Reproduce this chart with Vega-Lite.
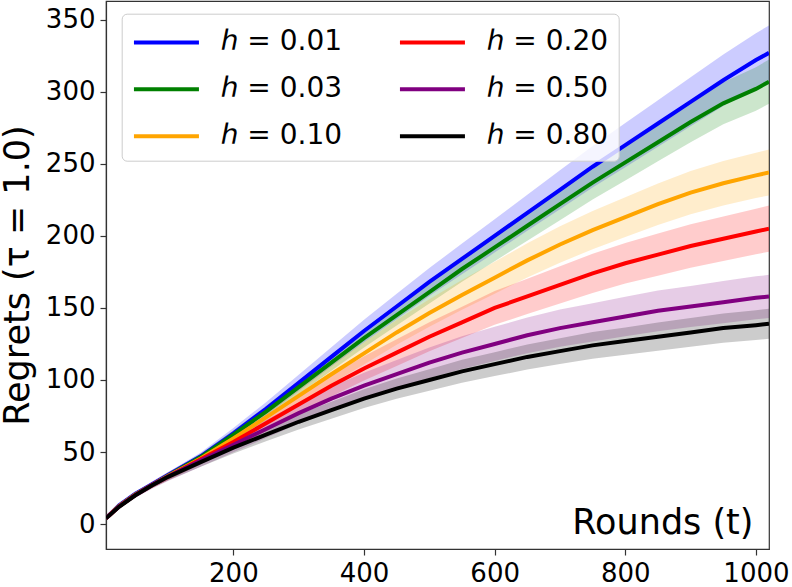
{
  "$schema": "https://vega.github.io/schema/vega-lite/v6.json",
  "width": 663,
  "height": 548,
  "autosize": {"type": "none"},
  "padding": {"left": 106, "top": 1, "right": 23, "bottom": 38},
  "background": "white",
  "config": {
    "font": "DejaVu Sans",
    "view": {"stroke": "#333333", "strokeWidth": 1.2},
    "axis": {
      "labelFont": "DejaVu Sans", "labelFontSize": 26, "labelColor": "black",
      "titleFont": "DejaVu Sans", "titleFontSize": 35, "titleFontWeight": "normal", "titleColor": "black",
      "domainColor": "#333333", "domainWidth": 1.2, "tickColor": "#333333", "tickWidth": 1.2, "tickSize": 6,
      "labelPadding": 5, "grid": false
    },
    "legend": {
      "orient": "none", "legendX": 15.7, "legendY": 12.7, "columns": 2,
      "symbolType": "M-1,0H3", "symbolSize": 1056, "symbolStrokeWidth": 4, "symbolOpacity": 1,
      "labelFont": "DejaVu Sans", "labelFontSize": 28, "labelOffset": 52, "labelLimit": 0, "labelColor": "black",
      "rowPadding": 14, "columnPadding": 49, "padding": 10,
      "fillColor": "rgba(255,255,255,0.8)", "strokeColor": "#cccccc", "cornerRadius": 5
    }
  },
  "data": {"values": [
    {"h":"ℎ = 0.01","t":5,"v":4,"lo":3.8,"hi":4.2},
    {"h":"ℎ = 0.01","t":25,"v":13,"lo":12.2,"hi":13.8},
    {"h":"ℎ = 0.01","t":50,"v":21,"lo":19.8,"hi":22.2},
    {"h":"ℎ = 0.01","t":75,"v":27.5,"lo":25.9,"hi":29.1},
    {"h":"ℎ = 0.01","t":100,"v":34,"lo":32,"hi":36},
    {"h":"ℎ = 0.01","t":150,"v":47,"lo":44.3,"hi":49.7},
    {"h":"ℎ = 0.01","t":200,"v":63,"lo":59.3,"hi":66.7},
    {"h":"ℎ = 0.01","t":250,"v":80,"lo":75.4,"hi":84.6},
    {"h":"ℎ = 0.01","t":300,"v":98,"lo":92.3,"hi":103.7},
    {"h":"ℎ = 0.01","t":350,"v":116,"lo":109.3,"hi":122.7},
    {"h":"ℎ = 0.01","t":400,"v":134,"lo":126.2,"hi":141.8},
    {"h":"ℎ = 0.01","t":450,"v":151,"lo":142.2,"hi":159.8},
    {"h":"ℎ = 0.01","t":500,"v":168,"lo":158.3,"hi":177.7},
    {"h":"ℎ = 0.01","t":550,"v":184,"lo":173.3,"hi":194.7},
    {"h":"ℎ = 0.01","t":600,"v":200,"lo":188.4,"hi":211.6},
    {"h":"ℎ = 0.01","t":650,"v":216,"lo":203.5,"hi":228.5},
    {"h":"ℎ = 0.01","t":700,"v":232,"lo":218.5,"hi":245.5},
    {"h":"ℎ = 0.01","t":750,"v":248,"lo":233.6,"hi":262.4},
    {"h":"ℎ = 0.01","t":800,"v":263,"lo":247.7,"hi":278.3},
    {"h":"ℎ = 0.01","t":850,"v":278,"lo":261.9,"hi":294.1},
    {"h":"ℎ = 0.01","t":900,"v":293,"lo":276,"hi":310},
    {"h":"ℎ = 0.01","t":950,"v":308,"lo":290.1,"hi":325.9},
    {"h":"ℎ = 0.01","t":1000,"v":322,"lo":303.3,"hi":340.7},
    {"h":"ℎ = 0.01","t":1020,"v":327,"lo":308,"hi":346},

    {"h":"ℎ = 0.03","t":5,"v":4,"lo":3.8,"hi":4.2},
    {"h":"ℎ = 0.03","t":25,"v":12.5,"lo":11.9,"hi":13.1},
    {"h":"ℎ = 0.03","t":50,"v":20.5,"lo":19.5,"hi":21.5},
    {"h":"ℎ = 0.03","t":75,"v":27,"lo":25.6,"hi":28.4},
    {"h":"ℎ = 0.03","t":100,"v":33.5,"lo":31.8,"hi":35.2},
    {"h":"ℎ = 0.03","t":150,"v":46.5,"lo":44.2,"hi":48.8},
    {"h":"ℎ = 0.03","t":200,"v":62,"lo":58.9,"hi":65.1},
    {"h":"ℎ = 0.03","t":250,"v":78,"lo":74.1,"hi":81.9},
    {"h":"ℎ = 0.03","t":300,"v":95,"lo":90.3,"hi":99.8},
    {"h":"ℎ = 0.03","t":350,"v":112,"lo":106.4,"hi":117.6},
    {"h":"ℎ = 0.03","t":400,"v":129,"lo":122.6,"hi":135.5},
    {"h":"ℎ = 0.03","t":450,"v":145,"lo":137.8,"hi":152.3},
    {"h":"ℎ = 0.03","t":500,"v":161,"lo":153,"hi":169},
    {"h":"ℎ = 0.03","t":550,"v":177,"lo":168.2,"hi":185.8},
    {"h":"ℎ = 0.03","t":600,"v":192,"lo":182.4,"hi":201.6},
    {"h":"ℎ = 0.03","t":650,"v":207,"lo":196.7,"hi":217.3},
    {"h":"ℎ = 0.03","t":700,"v":222,"lo":210.9,"hi":233.1},
    {"h":"ℎ = 0.03","t":750,"v":237,"lo":225.2,"hi":248.9},
    {"h":"ℎ = 0.03","t":800,"v":251,"lo":238.5,"hi":263.5},
    {"h":"ℎ = 0.03","t":850,"v":265,"lo":251.8,"hi":278.3},
    {"h":"ℎ = 0.03","t":900,"v":279,"lo":265,"hi":293},
    {"h":"ℎ = 0.03","t":950,"v":292,"lo":277.4,"hi":306.6},
    {"h":"ℎ = 0.03","t":1000,"v":302,"lo":286.9,"hi":317.1},
    {"h":"ℎ = 0.03","t":1020,"v":307,"lo":291.7,"hi":322.4},

    {"h":"ℎ = 0.10","t":5,"v":4,"lo":3.7,"hi":4.3},
    {"h":"ℎ = 0.10","t":25,"v":12.5,"lo":11.7,"hi":13.3},
    {"h":"ℎ = 0.10","t":50,"v":20.5,"lo":19.2,"hi":21.8},
    {"h":"ℎ = 0.10","t":75,"v":27,"lo":25.2,"hi":28.8},
    {"h":"ℎ = 0.10","t":100,"v":33.3,"lo":31.1,"hi":35.5},
    {"h":"ℎ = 0.10","t":150,"v":45.5,"lo":42.5,"hi":48.5},
    {"h":"ℎ = 0.10","t":200,"v":59.5,"lo":55.6,"hi":63.4},
    {"h":"ℎ = 0.10","t":250,"v":74,"lo":69.2,"hi":78.8},
    {"h":"ℎ = 0.10","t":300,"v":89,"lo":83.2,"hi":94.8},
    {"h":"ℎ = 0.10","t":350,"v":104,"lo":97.2,"hi":110.8},
    {"h":"ℎ = 0.10","t":400,"v":118.5,"lo":110.8,"hi":126.2},
    {"h":"ℎ = 0.10","t":450,"v":133,"lo":124.4,"hi":141.6},
    {"h":"ℎ = 0.10","t":500,"v":146.5,"lo":137,"hi":156},
    {"h":"ℎ = 0.10","t":550,"v":159,"lo":148.7,"hi":169.3},
    {"h":"ℎ = 0.10","t":600,"v":171,"lo":159.9,"hi":182.1},
    {"h":"ℎ = 0.10","t":650,"v":183,"lo":171.1,"hi":194.9},
    {"h":"ℎ = 0.10","t":700,"v":194,"lo":181.4,"hi":206.6},
    {"h":"ℎ = 0.10","t":750,"v":204,"lo":190.7,"hi":217.3},
    {"h":"ℎ = 0.10","t":800,"v":213,"lo":199.2,"hi":226.8},
    {"h":"ℎ = 0.10","t":850,"v":222,"lo":207.6,"hi":236.4},
    {"h":"ℎ = 0.10","t":900,"v":230,"lo":215,"hi":245},
    {"h":"ℎ = 0.10","t":950,"v":236.5,"lo":221.1,"hi":251.9},
    {"h":"ℎ = 0.10","t":1000,"v":242,"lo":226.3,"hi":257.7},
    {"h":"ℎ = 0.10","t":1020,"v":244,"lo":228.1,"hi":259.9},

    {"h":"ℎ = 0.20","t":5,"v":4,"lo":3.7,"hi":4.3},
    {"h":"ℎ = 0.20","t":25,"v":12.3,"lo":11.3,"hi":13.3},
    {"h":"ℎ = 0.20","t":50,"v":20.3,"lo":18.7,"hi":21.9},
    {"h":"ℎ = 0.20","t":75,"v":27,"lo":24.9,"hi":29.1},
    {"h":"ℎ = 0.20","t":100,"v":33,"lo":30.4,"hi":35.6},
    {"h":"ℎ = 0.20","t":150,"v":45,"lo":41.5,"hi":48.5},
    {"h":"ℎ = 0.20","t":200,"v":57,"lo":52.6,"hi":61.4},
    {"h":"ℎ = 0.20","t":250,"v":70,"lo":64.5,"hi":75.5},
    {"h":"ℎ = 0.20","t":300,"v":83,"lo":76.5,"hi":89.5},
    {"h":"ℎ = 0.20","t":350,"v":96,"lo":88.5,"hi":103.5},
    {"h":"ℎ = 0.20","t":400,"v":108,"lo":99.6,"hi":116.4},
    {"h":"ℎ = 0.20","t":450,"v":119,"lo":109.7,"hi":128.3},
    {"h":"ℎ = 0.20","t":500,"v":130,"lo":119.9,"hi":140.1},
    {"h":"ℎ = 0.20","t":550,"v":140,"lo":129.1,"hi":150.9},
    {"h":"ℎ = 0.20","t":600,"v":150,"lo":138.3,"hi":161.7},
    {"h":"ℎ = 0.20","t":650,"v":158,"lo":145.7,"hi":170.3},
    {"h":"ℎ = 0.20","t":700,"v":166,"lo":153.1,"hi":178.9},
    {"h":"ℎ = 0.20","t":750,"v":174,"lo":160.4,"hi":187.6},
    {"h":"ℎ = 0.20","t":800,"v":181,"lo":166.9,"hi":195.1},
    {"h":"ℎ = 0.20","t":850,"v":187,"lo":172.4,"hi":201.6},
    {"h":"ℎ = 0.20","t":900,"v":193,"lo":177.9,"hi":208.1},
    {"h":"ℎ = 0.20","t":950,"v":198,"lo":182.6,"hi":213.4},
    {"h":"ℎ = 0.20","t":1000,"v":203,"lo":187.2,"hi":218.8},
    {"h":"ℎ = 0.20","t":1020,"v":205,"lo":189,"hi":221},

    {"h":"ℎ = 0.50","t":5,"v":4,"lo":3.6,"hi":4.4},
    {"h":"ℎ = 0.50","t":25,"v":12.2,"lo":11,"hi":13.4},
    {"h":"ℎ = 0.50","t":50,"v":20.2,"lo":18.3,"hi":22.1},
    {"h":"ℎ = 0.50","t":75,"v":27,"lo":24.4,"hi":29.6},
    {"h":"ℎ = 0.50","t":100,"v":33,"lo":29.9,"hi":36.1},
    {"h":"ℎ = 0.50","t":150,"v":44,"lo":39.8,"hi":48.2},
    {"h":"ℎ = 0.50","t":200,"v":55,"lo":49.8,"hi":60.2},
    {"h":"ℎ = 0.50","t":250,"v":66,"lo":59.7,"hi":72.3},
    {"h":"ℎ = 0.50","t":300,"v":77,"lo":69.7,"hi":84.3},
    {"h":"ℎ = 0.50","t":350,"v":87,"lo":78.7,"hi":95.3},
    {"h":"ℎ = 0.50","t":400,"v":96,"lo":86.9,"hi":105.1},
    {"h":"ℎ = 0.50","t":450,"v":104,"lo":94.1,"hi":113.9},
    {"h":"ℎ = 0.50","t":500,"v":112,"lo":101.4,"hi":122.6},
    {"h":"ℎ = 0.50","t":550,"v":119,"lo":107.7,"hi":130.3},
    {"h":"ℎ = 0.50","t":600,"v":125,"lo":113.1,"hi":136.9},
    {"h":"ℎ = 0.50","t":650,"v":131,"lo":118.6,"hi":143.4},
    {"h":"ℎ = 0.50","t":700,"v":136,"lo":123.1,"hi":148.9},
    {"h":"ℎ = 0.50","t":750,"v":140,"lo":126.7,"hi":153.3},
    {"h":"ℎ = 0.50","t":800,"v":144,"lo":130.3,"hi":157.7},
    {"h":"ℎ = 0.50","t":850,"v":148,"lo":133.9,"hi":162.1},
    {"h":"ℎ = 0.50","t":900,"v":151,"lo":136.7,"hi":165.3},
    {"h":"ℎ = 0.50","t":950,"v":154,"lo":139.4,"hi":168.6},
    {"h":"ℎ = 0.50","t":1000,"v":157,"lo":142.1,"hi":171.9},
    {"h":"ℎ = 0.50","t":1020,"v":158,"lo":143,"hi":173},

    {"h":"ℎ = 0.80","t":5,"v":4,"lo":3.7,"hi":4.3},
    {"h":"ℎ = 0.80","t":25,"v":12,"lo":11.1,"hi":12.9},
    {"h":"ℎ = 0.80","t":50,"v":20,"lo":18.5,"hi":21.5},
    {"h":"ℎ = 0.80","t":75,"v":26.8,"lo":24.8,"hi":28.8},
    {"h":"ℎ = 0.80","t":100,"v":32.8,"lo":30.3,"hi":35.3},
    {"h":"ℎ = 0.80","t":150,"v":43,"lo":39.8,"hi":46.2},
    {"h":"ℎ = 0.80","t":200,"v":53,"lo":49,"hi":57},
    {"h":"ℎ = 0.80","t":250,"v":62,"lo":57.4,"hi":66.7},
    {"h":"ℎ = 0.80","t":300,"v":71,"lo":65.7,"hi":76.3},
    {"h":"ℎ = 0.80","t":350,"v":79,"lo":73.1,"hi":84.9},
    {"h":"ℎ = 0.80","t":400,"v":87,"lo":80.5,"hi":93.5},
    {"h":"ℎ = 0.80","t":450,"v":94,"lo":87,"hi":101},
    {"h":"ℎ = 0.80","t":500,"v":100,"lo":92.5,"hi":107.5},
    {"h":"ℎ = 0.80","t":550,"v":106,"lo":98,"hi":114},
    {"h":"ℎ = 0.80","t":600,"v":111,"lo":102.7,"hi":119.3},
    {"h":"ℎ = 0.80","t":650,"v":116,"lo":107.3,"hi":124.7},
    {"h":"ℎ = 0.80","t":700,"v":120,"lo":111,"hi":129},
    {"h":"ℎ = 0.80","t":750,"v":124,"lo":114.7,"hi":133.3},
    {"h":"ℎ = 0.80","t":800,"v":127,"lo":117.5,"hi":136.5},
    {"h":"ℎ = 0.80","t":850,"v":130,"lo":120.3,"hi":139.8},
    {"h":"ℎ = 0.80","t":900,"v":133,"lo":123,"hi":143},
    {"h":"ℎ = 0.80","t":950,"v":136,"lo":125.8,"hi":146.2},
    {"h":"ℎ = 0.80","t":1000,"v":138,"lo":127.7,"hi":148.4},
    {"h":"ℎ = 0.80","t":1020,"v":139,"lo":128.6,"hi":149.4}
  ]},
  "encoding": {
    "x": {
      "field": "t", "type": "quantitative",
      "scale": {"domain": [5, 1020], "nice": false, "zero": false},
      "axis": {
        "values": [200, 400, 600, 800, 1000], "format": "d", "title": "Rounds (t)",
        "titleAnchor": "end", "titleAlign": "right", "titleBaseline": "alphabetic",
        "titleX": 647, "titleY": -16
      }
    }
  },
  "resolve": {"legend": {"color": "independent"}},
  "layer": [
    {
      "mark": {"type": "area", "opacity": 0.2, "clip": true},
      "encoding": {
        "y": {"field": "lo", "type": "quantitative"},
        "y2": {"field": "hi"},
        "color": {
          "field": "h", "type": "nominal", "legend": null,
          "scale": {
            "domain": ["ℎ = 0.01", "ℎ = 0.03", "ℎ = 0.10", "ℎ = 0.20", "ℎ = 0.50", "ℎ = 0.80"],
            "range": ["#0000ff", "#008000", "#ffa500", "#ff0000", "#800080", "#000000"]
          }
        }
      }
    },
    {
      "mark": {"type": "line", "strokeWidth": 4, "clip": true},
      "encoding": {
        "y": {
          "field": "v", "type": "quantitative",
          "scale": {"domain": [-17.3, 363], "nice": false, "zero": false},
          "axis": {
            "values": [0, 50, 100, 150, 200, 250, 300, 350],
            "title": "Regrets (τ = 1.0)",
            "titleAlign": "center", "titleBaseline": "alphabetic", "titleAngle": 270,
            "titleX": -78, "titleY": 274
          }
        },
        "color": {
          "field": "h", "type": "nominal", "legend": {"title": null},
          "scale": {
            "domain": ["ℎ = 0.01", "ℎ = 0.03", "ℎ = 0.10", "ℎ = 0.20", "ℎ = 0.50", "ℎ = 0.80"],
            "range": ["#0000ff", "#008000", "#ffa500", "#ff0000", "#800080", "#000000"]
          }
        }
      }
    }
  ]
}
